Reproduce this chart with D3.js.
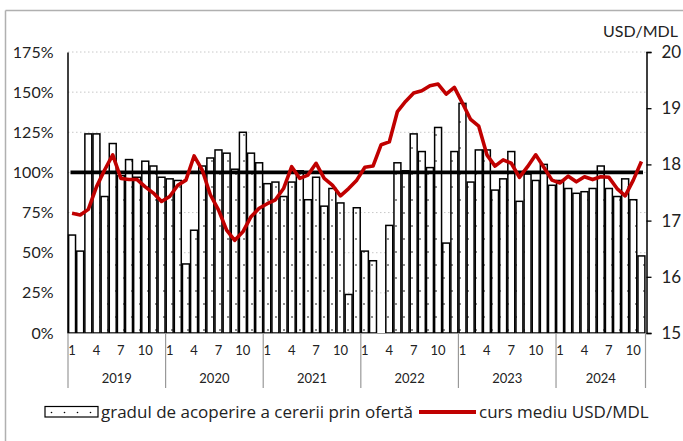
<!DOCTYPE html>
<html>
<head>
<meta charset="utf-8">
<script src="https://cdn.jsdelivr.net/npm/d3@7"></script>
<style>
  body { margin: 0; background: #fff; }
  svg { display: block; font-family: Lato, "Noto Sans", sans-serif; }
</style>
</head>
<body>
<div id="chart"></div>
<script>
// Data: monthly, Jan 2019 - Nov 2024
const years = ["2019", "2020", "2021", "2022", "2023", "2024"];
const monthLabels = ["1", "4", "7", "10"];

// gradul de acoperire a cererii prin ofertă, %
const coverage = [
    61, 51, 124, 124, 85, 118, 98, 108, 97, 107, 104, 97,
    96, 95, 43, 64, 104, 109, 114, 112, 102, 125, 112, 106,
    93, 94, 85, 94, 101, 83, 97, 79, 90, 81, 24, 78,
    51, 45, null, 67, 106, 101, 124, 113, 103, 128, 56, 113,
    143, 94, 114, 114, 89, 96, 113, 82, 99, 95, 105, 92,
    95, 90, 87, 88, 90, 104, 90, 85, 96, 83, 48
];

// curs mediu USD/MDL
const rate = [
    17.13, 17.10, 17.20, 17.60, 17.90, 18.17, 17.75, 17.73, 17.73, 17.60, 17.49, 17.34,
    17.43, 17.63, 17.72, 18.15, 17.90, 17.46, 17.19, 16.83, 16.65, 16.80, 17.07, 17.22,
    17.30, 17.37, 17.57, 17.96, 17.75, 17.81, 18.02, 17.75, 17.63, 17.44, 17.57, 17.72,
    17.95, 17.97, 18.35, 18.40, 18.94, 19.12, 19.27, 19.31, 19.40, 19.43, 19.25, 19.37,
    19.09, 18.80, 18.68, 18.17, 17.97, 18.08, 18.02, 17.77, 17.96, 18.17, 17.95, 17.72,
    17.67, 17.79, 17.69, 17.78, 17.73, 17.78, 17.77, 17.57, 17.44, 17.72, 18.05
];

const leftTicks = [0, 25, 50, 75, 100, 125, 150, 175];
const rightTicks = [15, 16, 17, 18, 19, 20];
const refLevel = 100;

const width = 683, height = 441;
const redColor = "#c00000";
const textColor = "#222";
const legendFont = "'Open Sans', 'Noto Sans', sans-serif";

const svg = d3.select("#chart").append("svg")
    .attr("width", width)
    .attr("height", height);

// dotted pattern for the bars
const defs = svg.append("defs");
const pat = defs.append("pattern")
    .attr("id", "dots")
    .attr("patternUnits", "userSpaceOnUse")
    .attr("width", 16).attr("height", 26);
pat.append("rect").attr("width", 16).attr("height", 26).attr("fill", "#fff");
pat.append("circle").attr("cx", 4).attr("cy", 5).attr("r", 0.8).attr("fill", "#000");
pat.append("circle").attr("cx", 12).attr("cy", 18).attr("r", 0.8).attr("fill", "#000");

const legPat = defs.append("pattern")
    .attr("id", "legdots")
    .attr("patternUnits", "userSpaceOnUse")
    .attr("x", 45).attr("y", 406)
    .attr("width", 13).attr("height", 11);
legPat.append("rect").attr("width", 13).attr("height", 11).attr("fill", "#fff");
legPat.append("circle").attr("cx", 6.5).attr("cy", 6.5).attr("r", 0.8).attr("fill", "#000");

// frame (top and left edges)
svg.append("line").attr("x1", 5.5).attr("x2", width).attr("y1", 10.5).attr("y2", 10.5)
    .attr("stroke", "#b0b0b0").attr("stroke-width", 1.5);
svg.append("line").attr("x1", 5.5).attr("x2", 5.5).attr("y1", 10.5).attr("y2", height)
    .attr("stroke", "#b0b0b0").attr("stroke-width", 1.5);

// Scales
const plotLeft = 68, plotRight = 645.5, plotTop = 52, plotBottom = 333;
const x = d3.scaleBand()
    .domain(d3.range(coverage.length))
    .range([plotLeft, plotRight])
    .padding(0);
const yL = d3.scaleLinear().domain([0, 175]).range([plotBottom, plotTop]);
const yR = d3.scaleLinear().domain([15, 20]).range([plotBottom, plotTop]);

// gridlines
svg.append("g")
    .selectAll("line")
    .data(leftTicks.filter(d => d > 0))
    .enter().append("line")
    .attr("x1", plotLeft).attr("x2", plotRight)
    .attr("y1", d => yL(d)).attr("y2", d => yL(d))
    .attr("stroke", "#c8c8c8")
    .attr("stroke-width", 1)
    .attr("stroke-dasharray", "1.5,2.5");

// bars
const bw = x.bandwidth();
svg.append("g")
    .selectAll("rect")
    .data(coverage.map((v, i) => ({i, v})).filter(d => d.v != null))
    .enter().append("rect")
    .attr("x", d => x(d.i) + 0.6)
    .attr("y", d => yL(d.v))
    .attr("width", bw - 1.2)
    .attr("height", d => yL(0) - yL(d.v))
    .attr("fill", "url(#dots)")
    .attr("stroke", "#000")
    .attr("stroke-width", 1.5);

// bottom axis line
svg.append("line")
    .attr("x1", plotLeft).attr("x2", plotRight + 1)
    .attr("y1", plotBottom + 0.5).attr("y2", plotBottom + 0.5)
    .attr("stroke", "#999").attr("stroke-width", 1.2);

// left axis
const leftAxis = svg.append("g")
    .attr("transform", "translate(" + (plotLeft - 0.5) + ",0)")
    .call(d3.axisLeft(yL).tickValues(leftTicks).tickSize(0).tickPadding(14)
        .tickFormat(d => d + "%"));
leftAxis.select(".domain").attr("stroke", "#000").attr("stroke-width", 1.5);
leftAxis.selectAll("text").attr("font-size", 16).attr("fill", textColor)
    .attr("font-family", "Lato, sans-serif");

// right axis
const rightAxis = svg.append("g")
    .attr("transform", "translate(" + (plotRight + 1) + ",0)")
    .call(d3.axisRight(yR).tickValues(rightTicks).tickSize(5).tickPadding(10)
        .tickFormat(d3.format("d")));
rightAxis.select(".domain").attr("stroke", "#000").attr("stroke-width", 1.5);
rightAxis.selectAll(".tick line").attr("stroke", "#000").attr("stroke-width", 1.3);
rightAxis.selectAll("text").attr("font-size", 17).attr("fill", textColor)
    .attr("font-family", "Lato, sans-serif");

svg.append("text")
    .attr("x", 678).attr("y", 37)
    .attr("text-anchor", "end")
    .attr("font-size", 16).attr("fill", textColor)
    .text("USD/MDL");

// 100% reference line
svg.append("line")
    .attr("x1", plotLeft + 2.5).attr("x2", plotRight - 2.5)
    .attr("y1", yL(refLevel)).attr("y2", yL(refLevel))
    .attr("stroke", "#000").attr("stroke-width", 3.8);

// exchange rate line
const line = d3.line()
    .x((d, i) => x(i) + bw / 2)
    .y(d => yR(d));
svg.append("path")
    .datum(rate)
    .attr("d", line)
    .attr("fill", "none")
    .attr("stroke", redColor)
    .attr("stroke-width", 3.6)
    .attr("stroke-linejoin", "round");

// category axis: months and years
const xAxisG = svg.append("g").attr("font-size", 13).attr("fill", textColor);
years.forEach((yr, yi) => {
    const start = yi * 12;
    const nMonths = Math.min(12, coverage.length - start);
    const x0 = x(start);
    const x1 = x(start + nMonths - 1) + bw;
    monthLabels.forEach(m => {
        const idx = start + (+m) - 1;
        if (idx < coverage.length) {
            xAxisG.append("text")
                .attr("x", x(idx) + bw / 2)
                .attr("y", 355)
                .attr("text-anchor", "middle")
                .text(m);
        }
    });
    xAxisG.append("text")
        .attr("x", (x0 + x1) / 2)
        .attr("y", 383)
        .attr("text-anchor", "middle")
        .text(yr);
    xAxisG.append("line")
        .attr("x1", x0).attr("x2", x0)
        .attr("y1", plotBottom).attr("y2", 388)
        .attr("stroke", "#999").attr("stroke-width", 1.2);
    if (yi === years.length - 1) {
        xAxisG.append("line")
            .attr("x1", x1).attr("x2", x1)
            .attr("y1", plotBottom).attr("y2", 388)
            .attr("stroke", "#999").attr("stroke-width", 1.2);
    }
});

// legend
const legend = svg.append("g").attr("font-size", 17).attr("fill", textColor)
    .attr("font-family", legendFont);
legend.append("rect")
    .attr("x", 45).attr("y", 406.5).attr("width", 53).attr("height", 10.5)
    .attr("fill", "url(#legdots)")
    .attr("stroke", "#000").attr("stroke-width", 1.2);
legend.append("text").attr("x", 101).attr("y", 418)
    .text("gradul de acoperire a cererii prin ofertă");
legend.append("line")
    .attr("x1", 419).attr("x2", 476).attr("y1", 412).attr("y2", 412)
    .attr("stroke", redColor).attr("stroke-width", 4);
legend.append("text").attr("x", 479).attr("y", 418)
    .text("curs mediu USD/MDL");
</script>
</body>
</html>
